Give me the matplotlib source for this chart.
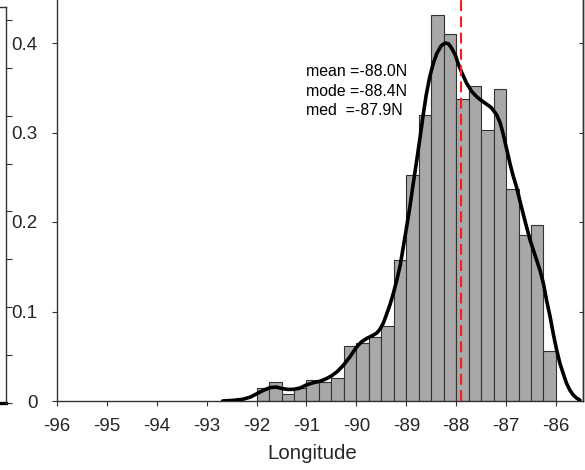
# histogram of longitudes with a smoothed density curve and summary stats

import numpy as np
import matplotlib.pyplot as plt

plt.rcParams['font.family'] = ['Liberation Sans', 'DejaVu Sans']
plt.rcParams['axes.unicode_minus'] = False

# density per 0.25 degree bin, bins run from -92 to -86
bin_left = np.arange(-92.0, -86.0, 0.25)
bin_density = [0.015, 0.021, 0.008, 0.014, 0.023, 0.021, 0.026, 0.062,
               0.065, 0.072, 0.084, 0.157, 0.252, 0.319, 0.431, 0.410,
               0.337, 0.352, 0.303, 0.349, 0.237, 0.185, 0.197, 0.056]

# smoothed density estimate
kde_lon = [-92.68, -92.45, -92.27, -92.12, -92.0, -91.86, -91.73, -91.6,
           -91.5, -91.38, -91.26, -91.13, -91.0, -90.86, -90.73, -90.6,
           -90.5, -90.38, -90.26, -90.12, -90.0, -89.9, -89.79, -89.68,
           -89.59, -89.53, -89.46, -89.4, -89.33, -89.26, -89.19, -89.12,
           -89.06, -89.0, -88.93, -88.86, -88.79, -88.72, -88.66, -88.6,
           -88.53, -88.46, -88.39, -88.3, -88.22, -88.15, -88.09, -88.02,
           -87.96, -87.88, -87.79, -87.69, -87.59, -87.5, -87.4, -87.3,
           -87.19, -87.12, -87.06, -86.99, -86.92, -86.86, -86.79, -86.72,
           -86.62, -86.52, -86.42, -86.32, -86.25, -86.19, -86.12, -86.05,
           -85.99, -85.92, -85.85, -85.79, -85.72, -85.65, -85.58, -85.52]
kde_density = [0.0, 0.0008, 0.002, 0.0045, 0.008, 0.012, 0.015, 0.0155,
               0.014, 0.013, 0.013, 0.0145, 0.018, 0.0205, 0.022, 0.025,
               0.028, 0.033, 0.040, 0.050, 0.060, 0.066, 0.070, 0.073,
               0.076, 0.080, 0.087, 0.096, 0.107, 0.120, 0.135, 0.152,
               0.172, 0.192, 0.216, 0.243, 0.269, 0.296, 0.320, 0.342,
               0.362, 0.377, 0.388, 0.397, 0.400, 0.399, 0.394, 0.387,
               0.377, 0.366, 0.355, 0.346, 0.340, 0.336, 0.332, 0.328,
               0.320, 0.311, 0.299, 0.282, 0.265, 0.252, 0.239, 0.223,
               0.201, 0.180, 0.163, 0.146, 0.131, 0.113, 0.095, 0.074,
               0.058, 0.042, 0.030, 0.020, 0.012, 0.0065, 0.003, 0.001]

stat_names = ["mean", "mode", "med "]
stat_values = [-88.0, -88.4, -87.9]
median_lon = stat_values[2]

x_ticks = [-96, -95, -94, -93, -92, -91, -90, -89, -88, -87, -86]
y_ticks = [0, 0.1, 0.2, 0.3, 0.4]
y_labels = ["0", "0.1", "0.2", "0.3", "0.4"]

# tail of the neighbouring panel's curve, seen at the left edge
side_tail_x = [0.9, 1.0]
side_tail_y = [0.0, 0.0]

axis_col = "#333333"
text_col = "#262626"

W, H = 585, 470
fig = plt.figure(figsize=(W / 100, H / 100), dpi=100)

# right edge of the panel next door
side = fig.add_axes([-100 / W, 67.5 / H, 106 / W, 395.5 / H])
side.set_xlim(0, 1)
side.set_ylim(0, 0.414)
side.spines["left"].set_visible(False)
side.spines["bottom"].set_visible(False)
for s in ["right", "top"]:
    side.spines[s].set_color(axis_col)
    side.spines[s].set_linewidth(1.0)
side.set_xticks([])
side.yaxis.tick_right()
side.set_yticks(np.arange(0, 0.41, 0.05))
side.tick_params(axis="y", direction="out", length=4.5, width=0.8,
                 color=axis_col, labelright=False)
side.plot(side_tail_x, side_tail_y, color="black", lw=2.4, clip_on=False)

ax = fig.add_axes([57 / W, 69 / H, 526.4 / W, 447.5 / H])
ax.bar(bin_left, bin_density, width=0.25, align="edge",
       color="#a8a8a8", edgecolor="#333333", linewidth=0.8, zorder=2)
ax.plot(kde_lon, kde_density, color="black", lw=2.6,
        solid_joinstyle="round", solid_capstyle="round", zorder=3)
ax.axvline(median_lon, color="#ff1a1a", lw=1.5, linestyle=(0, (5.2, 2.6)),
           zorder=4)

for i, (name, val) in enumerate(zip(stat_names, stat_values)):
    ax.text(-91.0, 0.368 - i * 0.0218, f"{name} ={val:.1f}N",
            fontsize=11.4, va="center", ha="left", color="black")

ax.set_xlim(-96, -85.45)
ax.set_ylim(0, 0.5)
ax.set_xticks(x_ticks)
ax.set_xticklabels([str(t) for t in x_ticks])
ax.set_yticks(y_ticks)
ax.set_yticklabels(y_labels)
ax.tick_params(direction="out", length=3.8, width=0.8, color=axis_col,
               labelsize=13.5, labelcolor=text_col, pad=8.5)
ax.tick_params(axis="y", pad=10)
ax.spines["top"].set_visible(False)
for s in ["left", "bottom", "right"]:
    ax.spines[s].set_color(axis_col)
    ax.spines[s].set_linewidth(1.0)

ax.set_xlabel("Longitude", fontsize=14.8, color=text_col)
ax.xaxis.set_label_coords(0.485, -0.097)

# right side ticks point inward
ax_r = ax.twinx()
ax_r.set_ylim(ax.get_ylim())
ax_r.set_yticks(y_ticks)
ax_r.tick_params(axis="y", direction="in", length=3.0, width=0.8,
                 color=axis_col, labelright=False)
for s in ["top", "left", "bottom"]:
    ax_r.spines[s].set_visible(False)
ax_r.spines["right"].set_color(axis_col)
ax_r.spines["right"].set_linewidth(1.0)

fig.savefig("out.png", dpi=100)
